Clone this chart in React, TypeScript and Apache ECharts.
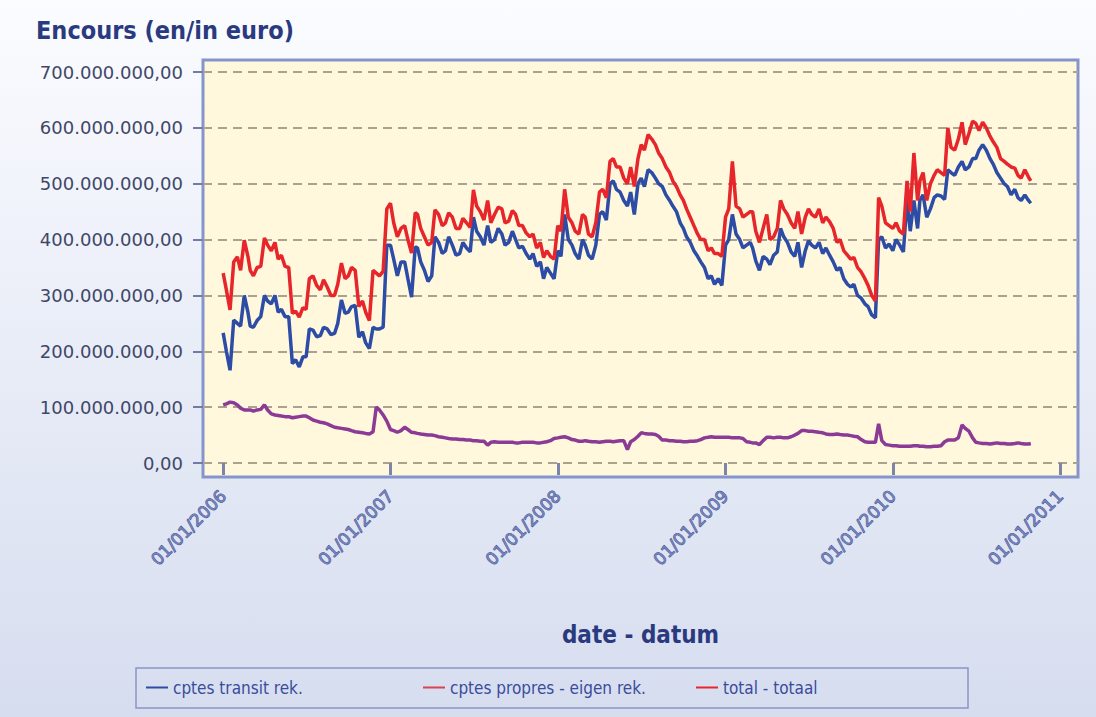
import React, { useEffect, useRef } from "react";
import * as echarts from "echarts";

// Sample dates (about weekly: 1st, 8th, 16th, 24th of each month)
const dates = [
  "2006-01-01","2006-01-08","2006-01-16","2006-01-24","2006-02-01","2006-02-08","2006-02-16","2006-02-24","2006-03-01","2006-03-08","2006-03-16","2006-03-24",
  "2006-04-01","2006-04-08","2006-04-16","2006-04-24","2006-05-01","2006-05-08","2006-05-16","2006-05-24","2006-06-01","2006-06-08","2006-06-16","2006-06-24",
  "2006-07-01","2006-07-08","2006-07-16","2006-07-24","2006-08-01","2006-08-08","2006-08-16","2006-08-24","2006-09-01","2006-09-08","2006-09-16","2006-09-24",
  "2006-10-01","2006-10-08","2006-10-16","2006-10-24","2006-11-01","2006-11-08","2006-11-16","2006-11-24","2006-12-01","2006-12-08","2006-12-16","2006-12-24",
  "2007-01-01","2007-01-08","2007-01-16","2007-01-24","2007-02-01","2007-02-08","2007-02-16","2007-02-24","2007-03-01","2007-03-08","2007-03-16","2007-03-24",
  "2007-04-01","2007-04-08","2007-04-16","2007-04-24","2007-05-01","2007-05-08","2007-05-16","2007-05-24","2007-06-01","2007-06-08","2007-06-16","2007-06-24",
  "2007-07-01","2007-07-08","2007-07-16","2007-07-24","2007-08-01","2007-08-08","2007-08-16","2007-08-24","2007-09-01","2007-09-08","2007-09-16","2007-09-24",
  "2007-10-01","2007-10-08","2007-10-16","2007-10-24","2007-11-01","2007-11-08","2007-11-16","2007-11-24","2007-12-01","2007-12-08","2007-12-16","2007-12-24",
  "2008-01-01","2008-01-08","2008-01-16","2008-01-24","2008-02-01","2008-02-08","2008-02-16","2008-02-24","2008-03-01","2008-03-08","2008-03-16","2008-03-24",
  "2008-04-01","2008-04-08","2008-04-16","2008-04-24","2008-05-01","2008-05-08","2008-05-16","2008-05-24","2008-06-01","2008-06-08","2008-06-16","2008-06-24",
  "2008-07-01","2008-07-08","2008-07-16","2008-07-24","2008-08-01","2008-08-08","2008-08-16","2008-08-24","2008-09-01","2008-09-08","2008-09-16","2008-09-24",
  "2008-10-01","2008-10-08","2008-10-16","2008-10-24","2008-11-01","2008-11-08","2008-11-16","2008-11-24","2008-12-01","2008-12-08","2008-12-16","2008-12-24",
  "2009-01-01","2009-01-08","2009-01-16","2009-01-24","2009-02-01","2009-02-08","2009-02-16","2009-02-24","2009-03-01","2009-03-08","2009-03-16","2009-03-24",
  "2009-04-01","2009-04-08","2009-04-16","2009-04-24","2009-05-01","2009-05-08","2009-05-16","2009-05-24","2009-06-01","2009-06-08","2009-06-16","2009-06-24",
  "2009-07-01","2009-07-08","2009-07-16","2009-07-24","2009-08-01","2009-08-08","2009-08-16","2009-08-24","2009-09-01","2009-09-08","2009-09-16","2009-09-24",
  "2009-10-01","2009-10-08","2009-10-16","2009-10-24","2009-11-01","2009-11-08","2009-11-16","2009-11-24","2009-12-01","2009-12-08","2009-12-16","2009-12-24",
  "2010-01-01","2010-01-08","2010-01-16","2010-01-24","2010-02-01","2010-02-08","2010-02-16","2010-02-24","2010-03-01","2010-03-08","2010-03-16","2010-03-24",
  "2010-04-01","2010-04-08","2010-04-16","2010-04-24","2010-05-01","2010-05-08","2010-05-16","2010-05-24","2010-06-01","2010-06-08","2010-06-16","2010-06-24",
  "2010-07-01","2010-07-08","2010-07-16","2010-07-24","2010-08-01","2010-08-08","2010-08-16","2010-08-24","2010-09-01","2010-09-08","2010-09-16","2010-09-24",
  "2010-10-01","2010-10-08","2010-10-16","2010-10-24","2010-10-29",
];

// Values in millions of euro
const transit = [
  233,200,166,256, 250,245,300,270, 245,243,255,262, 300,290,285,300, 270,275,262,262, 178,185,172,190,
  190,240,238,226, 228,243,240,230, 232,250,292,268, 270,280,282,225, 235,215,205,243, 240,240,243,390,
  390,365,335,360, 360,330,297,387, 385,360,345,325, 335,405,395,375, 380,405,390,372, 375,395,385,378,
  440,415,405,390, 425,395,400,420, 410,390,395,415, 400,385,388,375, 365,375,352,360, 330,350,340,330,
  380,370,445,400, 390,375,365,400, 390,372,365,390, 445,450,435,500, 505,490,485,470, 460,485,445,500,
  510,495,525,520, 510,500,495,480, 470,460,450,430, 420,405,395,380, 370,360,350,330, 335,320,330,318,
  390,400,445,410, 400,385,390,395, 385,362,345,370, 365,355,372,378, 420,405,395,378, 370,395,350,380,
  398,390,385,395, 375,385,372,360, 345,350,330,320, 315,320,300,295, 285,280,265,260, 400,405,385,392,
  380,400,390,378, 470,415,470,420, 470,480,440,455, 475,480,478,472, 525,520,515,530, 540,525,530,545,
  545,560,570,560, 545,535,520,510, 500,495,480,490, 475,470,480,470, 465,
];

const propres = [
  104,106,109,108, 104,98,95,95, 95,93,95,96, 104,95,88,86, 85,84,83,83, 81,82,83,84,
  84,81,77,75, 73,72,70,67, 64,63,62,61, 60,58,56,55, 54,53,52,56, 100,95,86,75,
  60,58,55,58, 64,60,55,54, 53,52,51,50, 50,49,47,46, 45,44,43,43, 42,42,41,41,
  40,40,39,39, 32,37,38,37, 37,37,37,37, 36,36,37,37, 37,37,36,36, 37,38,40,44,
  45,46,47,45, 42,41,39,39, 40,39,38,38, 37,38,39,39, 38,39,40,40, 24,38,42,48,
  54,53,52,52, 51,48,41,41, 40,40,39,39, 38,38,39,39, 40,42,45,46, 47,46,46,46,
  46,46,45,45, 45,44,38,37, 36,36,33,40, 46,46,45,46, 46,45,45,47, 50,53,58,58,
  57,57,56,55, 54,52,51,51, 52,51,50,50, 49,48,47,42, 38,37,37,37, 70,40,33,32,
  31,31,30,30, 30,30,31,31, 30,30,29,29, 30,30,31,38, 41,41,41,45, 68,62,57,45,
  37,36,35,35, 34,35,36,35, 35,34,34,35, 36,35,34,34, 35,
];

const total = [
  340,310,274,360, 369,345,399,370, 345,335,350,352, 403,390,380,395, 365,372,352,350, 268,272,261,278,
  275,330,335,318, 310,328,315,300, 300,320,358,330, 335,350,345,280, 290,270,255,345, 340,335,343,455,
  465,430,405,420, 425,400,376,448, 445,420,405,390, 395,453,445,425, 430,448,440,420, 420,438,430,422,
  489,460,450,435, 470,430,445,458, 455,430,433,452, 445,425,425,412, 405,410,385,395, 368,380,370,365,
  425,415,490,440, 430,415,410,445, 440,410,405,430, 485,490,475,540, 545,530,530,510, 500,530,495,545,
  570,560,588,580, 570,555,545,530, 520,505,495,480, 470,455,440,425, 410,400,400,380, 385,375,375,370,
  440,455,540,460, 455,440,445,450, 450,415,395,420, 445,400,405,420, 470,455,445,430, 420,450,410,440,
  455,445,440,455, 430,440,432,420, 395,400,380,372, 365,368,350,342, 330,318,300,290, 475,460,430,425,
  420,430,415,410, 505,450,555,470, 505,520,470,500, 515,525,520,515, 600,565,560,580, 610,570,590,612,
  608,595,610,600, 585,575,565,545, 540,535,530,528, 515,510,525,512, 505,
];

const yearTicks = ["2006-01-01","2007-01-01","2008-01-01","2009-01-01","2010-01-01","2011-01-01"];
const seriesNames = ["cptes transit rek.", "cptes propres - eigen rek.", "total - totaal"];

const FONT = "'DejaVu Sans', sans-serif";
const FONT_C = "'DejaVu Sans Condensed', 'DejaVu Sans', sans-serif";

function fmtEuro(v: number): string {
  const s = Math.round(v).toString();
  return s.replace(/\B(?=(\d{3})+(?!\d))/g, ".") + ",00";
}
function pad(n: number) {
  return n < 10 ? "0" + n : "" + n;
}
function fmtDate(ts: number): string {
  const d = new Date(ts);
  return pad(d.getUTCDate()) + "/" + pad(d.getUTCMonth() + 1) + "/" + d.getUTCFullYear();
}

export default function App() {
  const ref = useRef<HTMLDivElement>(null);
  useEffect(() => {
    if (!ref.current) return;
    const chart = echarts.init(ref.current, undefined, { renderer: "svg" });
    const yearTs = yearTicks.map((d) => Date.parse(d));
    const day = 86400000;
    const xMin = Date.parse("2006-01-01") - 44 * day;
    const xMax = Date.parse("2011-01-01") + 39 * day;
    const mk = (vals: number[]) => dates.map((d, i) => [Date.parse(d), vals[i] * 1e6]);

    const legendText = { fontFamily: FONT_C, fontSize: 17, color: "#3a4c9c" };
    const legendBase = { top: 679, itemWidth: 22, itemHeight: 2, itemGap: 6, selectedMode: false, textStyle: legendText, padding: 0 };

    chart.setOption({
      animation: false,
      backgroundColor: new echarts.graphic.LinearGradient(0, 0, 0, 1, [
        { offset: 0, color: "#fbfcff" },
        { offset: 1, color: "#d6ddef" },
      ]),
      title: {
        text: "Encours (en/in euro)",
        left: 31,
        top: 13,
        textStyle: { fontFamily: FONT_C, fontWeight: "bold", fontSize: 25, color: "#2a3a7e" },
      },
      grid: { left: 203, right: 18, top: 72, bottom: 254 },
      xAxis: {
        type: "value",
        min: xMin,
        max: xMax,
        offset: 14,
        axisLine: { show: false },
        splitLine: { show: false },
        axisTick: { show: true, customValues: yearTs, length: 12, lineStyle: { color: "#7c84a8", width: 3 } },
        axisLabel: {
          customValues: yearTs,
          rotate: 45,
          margin: 16,
          formatter: (v: number) => fmtDate(v),
          fontFamily: FONT,
          fontSize: 17,
          color: "#7482ba",
          textBorderColor: "#34428a",
          textBorderWidth: 0.8,
        },
        name: "date - datum",
        nameLocation: "middle",
        nameGap: 146,
        nameTextStyle: { fontFamily: FONT_C, fontWeight: "bold", fontSize: 24, color: "#2a3a7e" },
      },
      yAxis: {
        type: "value",
        min: 0,
        max: 700e6,
        interval: 100e6,
        axisLine: { show: false },
        axisTick: { show: true, length: 10, lineStyle: { color: "#6f7bab", width: 2 } },
        axisLabel: { margin: 20, formatter: (v: number) => fmtEuro(v), fontFamily: FONT, fontSize: 18, color: "#3f4768" },
        splitLine: { show: true, lineStyle: { type: [9, 6], color: "#aaa28c", width: 2 } },
      },
      legend: [
        { ...legendBase, left: 146, data: [{ name: seriesNames[0], icon: "rect", itemStyle: { color: "#2c4ca6" } }] },
        { ...legendBase, left: 423, data: [{ name: seriesNames[1], icon: "rect", itemStyle: { color: "#d94352" } }] },
        { ...legendBase, left: 696, data: [{ name: seriesNames[2], icon: "rect", itemStyle: { color: "#e6262b" } }] },
      ],
      graphic: [
        {
          type: "rect",
          z: -10,
          shape: { x: 203, y: 60, width: 875, height: 417 },
          style: { fill: "#fff8dc", stroke: "#8595cc", lineWidth: 3 },
          silent: true,
        },
        {
          type: "rect",
          shape: { x: 136, y: 668, width: 832, height: 40 },
          style: { fill: "rgba(0,0,0,0)", stroke: "#8c95c5", lineWidth: 1.5 },
          silent: true,
        },
      ],
      series: [
        {
          name: seriesNames[0],
          type: "line",
          data: mk(transit),
          symbol: "none",
          lineStyle: { color: "#2c4ca6", width: 3.5 },
          itemStyle: { color: "#2c4ca6" },
        },
        {
          name: seriesNames[1],
          type: "line",
          data: mk(propres),
          symbol: "none",
          lineStyle: { color: "#8b3a95", width: 3.5 },
          itemStyle: { color: "#8b3a95" },
        },
        {
          name: seriesNames[2],
          type: "line",
          data: mk(total),
          symbol: "none",
          lineStyle: { color: "#e6262b", width: 3.5 },
          itemStyle: { color: "#e6262b" },
        },
      ],
    });
    return () => chart.dispose();
  }, []);
  return <div ref={ref} style={{ position: "fixed", left: 0, top: 0, width: 1096, height: 717 }} />;
}
